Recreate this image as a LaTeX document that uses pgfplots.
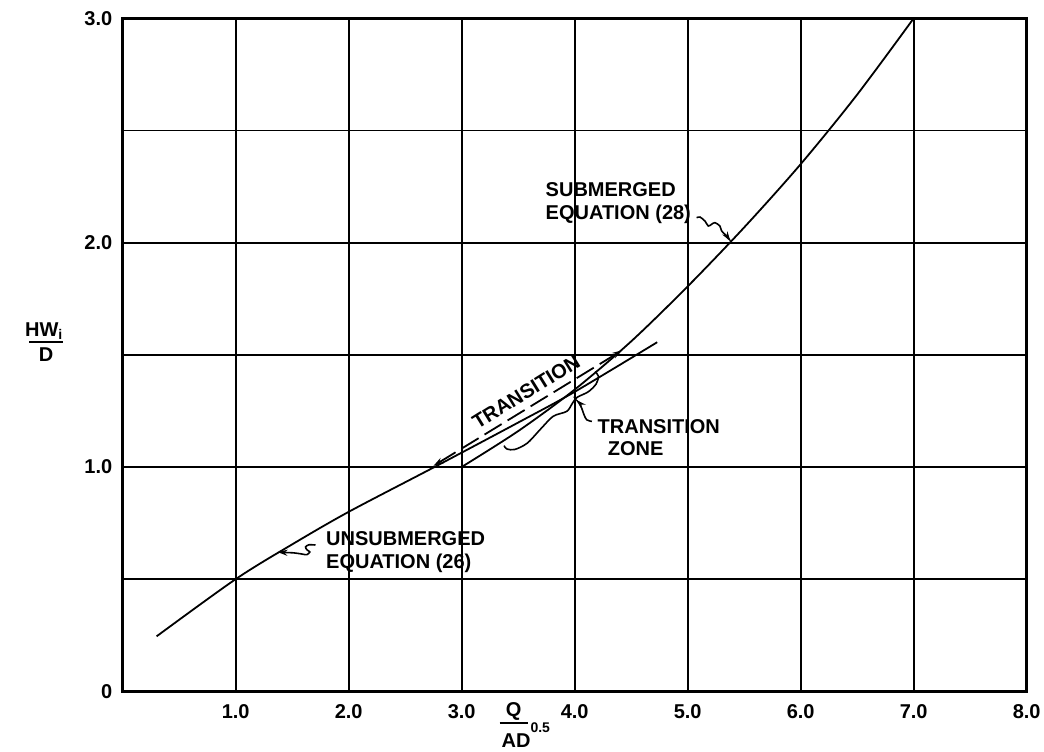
\documentclass[border=0pt]{standalone}
\usepackage{fontspec}
\setmainfont{Liberation Sans}
\usepackage{pgfplots}
\pgfplotsset{compat=1.18}
\usetikzlibrary{arrows.meta}

\begin{document}
\begin{tikzpicture}[font=\fontsize{10}{12}\selectfont\bfseries]
\begin{axis}[
  scale only axis, width=452pt, height=336.5pt,
  xmin=0, xmax=8, ymin=0, ymax=3,
  axis line style={line width=1.5pt},
  xtick={1,2,3,4,5,6,7,8},
  xticklabels={1.0,2.0,3.0,4.0,5.0,6.0,7.0,8.0},
  ytick={0,0.5,1,1.5,2,2.5,3},
  yticklabels={0,,1.0,,2.0,,3.0},
  major tick length=0pt,
  grid=major,
  major grid style={line width=0.9pt, black},
  xticklabel style={font=\fontsize{10}{12}\selectfont\bfseries, yshift=-3pt},
  yticklabel style={font=\fontsize{10}{12}\selectfont\bfseries, xshift=-1.7pt},
  clip=false,
]
% unsubmerged equation (26)
\addplot[line width=0.9pt, smooth] coordinates {
  (0.30,0.245) (1.0,0.50) (1.5,0.655) (2.0,0.80) (2.76,1.0)
  (3.5,1.198) (4.0,1.335) (4.73,1.556)};
% submerged equation (28)
\addplot[line width=0.9pt, smooth] coordinates {
  (3.0,1.0) (3.5,1.16) (4.0,1.345) (4.5,1.56) (5.0,1.805) (5.5,2.068)
  (6.0,2.35) (6.5,2.66) (7.0,3.0)};
% transition (dashed)
\addplot[line width=0.9pt, dash pattern=on 10pt off 3.5pt, {Stealth[length=5pt,width=3pt]}-{Stealth[length=5pt,width=3pt]}] coordinates {
  (2.75,1.005) (4.42,1.52)};

\coordinate (yl) at (axis cs:0,1.558);
\coordinate (xl) at (axis cs:3.46,0);

% transition zone brace
\draw[line width=0.8pt] plot[smooth] coordinates {
  (3.375,1.095) (3.40,1.08) (3.47,1.078) (3.58,1.106) (3.70,1.17) (3.81,1.226)
  (3.93,1.248) (3.98,1.284) (4.02,1.31) (4.12,1.335) (4.19,1.37) (4.21,1.405) (4.18,1.425)};
\draw[line width=0.8pt, -{Stealth[length=5pt,width=3pt]}] plot[smooth] coordinates {
  (4.152,1.203) (4.107,1.21) (4.083,1.232) (4.062,1.262) (4.041,1.284) (4.015,1.298)};
\node[anchor=base west, inner sep=0pt] at (axis cs:4.20,1.151) {TRANSITION};
\node[anchor=base west, inner sep=0pt] at (axis cs:4.29,1.049) {ZONE};

% transition label
\node[rotate=31.8, inner sep=0pt] at (axis cs:3.57,1.335) {TRANSITION};

% submerged label
\node[anchor=base west, inner sep=0pt] at (axis cs:3.74,2.207) {SUBMERGED};
\node[anchor=base west, inner sep=0pt] at (axis cs:3.74,2.105) {EQUATION (28)};
\draw[line width=0.8pt, -{Stealth[length=5pt,width=3pt]}] plot[smooth] coordinates {
  (5.079,2.111) (5.109,2.114) (5.153,2.096) (5.182,2.074) (5.212,2.082) (5.241,2.089)
  (5.285,2.074) (5.30,2.052) (5.344,2.03) (5.378,2.006)};

% unsubmerged label
\node[anchor=base west, inner sep=0pt] at (axis cs:1.797,0.652) {UNSUBMERGED};
\node[anchor=base west, inner sep=0pt] at (axis cs:1.797,0.546) {EQUATION (26)};
\draw[line width=0.8pt, -{Stealth[length=5pt,width=3pt]}] plot[smooth] coordinates {
  (1.706,0.652) (1.647,0.653) (1.618,0.643) (1.632,0.630) (1.656,0.621) (1.629,0.609)
  (1.585,0.612) (1.515,0.617) (1.426,0.619) (1.37,0.621)};

\coordinate (bl) at (rel axis cs:0,0);
\coordinate (tr) at (rel axis cs:1,1);
\end{axis}

% x label
\node[anchor=base, inner sep=0pt] at ([yshift=-12.5pt]xl) {Q};
\draw[line width=0.9pt] ([xshift=-7pt,yshift=-15.8pt]xl) -- ([xshift=7pt,yshift=-15.8pt]xl);
\node[anchor=base, inner sep=0pt] at ([xshift=1.2pt,yshift=-28pt]xl) {AD\rlap{\raisebox{7.5pt}{\fontsize{7}{8}\selectfont 0.5}}};

% y label
\node[anchor=base, inner sep=0pt] at ([xshift=-39.5pt,yshift=2.5pt]yl) {HW\raisebox{-1.5pt}{\fontsize{7}{8}\selectfont i}};
\draw[line width=0.9pt] ([xshift=-46.75pt]yl) -- ([xshift=-29.75pt]yl);
\node[anchor=base, inner sep=0pt] at ([xshift=-38.25pt,yshift=-10pt]yl) {D};

\pgfresetboundingbox
\path[use as bounding box] ([xshift=-61.35pt,yshift=-30pt]bl) rectangle ([xshift=8.65pt,yshift=9.15pt]tr);
\end{tikzpicture}
\end{document}
